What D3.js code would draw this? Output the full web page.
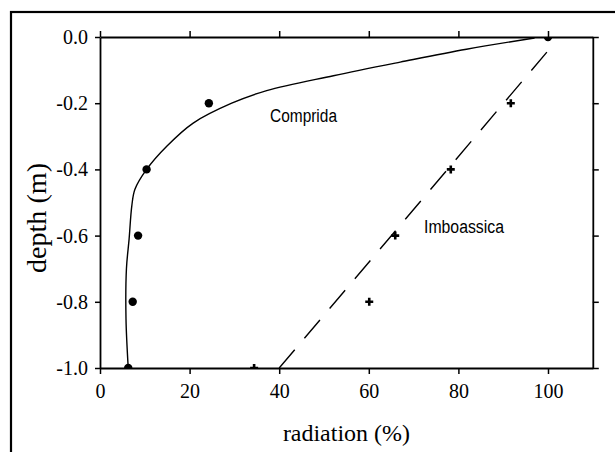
<!DOCTYPE html>
<html>
<head>
<meta charset="utf-8">
<script src="https://cdn.jsdelivr.net/npm/d3@7"></script>
<style>
  body { margin: 0; background: #fff; }
  svg { display: block; }
  .serif { font-family: "Liberation Serif", "Times New Roman", serif; }
  .lbl { font-family: "Liberation Sans", Arial, sans-serif; font-size: 18px; }
</style>
</head>
<body>
<svg width="615" height="452"></svg>
<script>
// Comprida: measured points and fitted curve
const compridaPts = [[100, 0], [24.3, -0.2], [10.4, -0.4], [8.5, -0.6], [7.3, -0.8], [6.3, -1.0]];
const compridaFit = [[6.3, -1.0], [5.8, -0.85], [5.9, -0.70], [6.5, -0.61], [7.1, -0.51], [7.8, -0.46],
  [10.4, -0.40], [14.9, -0.33], [20.8, -0.26], [29.4, -0.20], [37.2, -0.162], [52.1, -0.117],
  [67, -0.076], [81.8, -0.037], [97, -0.003]];
// Imboassica: measured points and linear fit
const imboPts = [[100, 0], [91.7, -0.2], [78.3, -0.4], [65.9, -0.6], [60.1, -0.8], [34.4, -1.0]];
const imboFit = [[40, -1.0], [101.3, -0.021]];

const xTicks = [0, 20, 40, 60, 80, 100];
const yTicks = [0, -0.2, -0.4, -0.6, -0.8, -1.0];

const svg = d3.select('svg');

// outer frame, runs off the right and bottom edge
svg.append('rect')
  .attr('x', 11).attr('y', 12).attr('width', 640).attr('height', 480)
  .attr('fill', 'none').attr('stroke', '#000').attr('stroke-width', 2.2);

const x = d3.scaleLinear().domain([0, 110]).range([100, 592.8]);
const y = d3.scaleLinear().domain([-1, 0]).range([368, 37]);

svg.append('clipPath').attr('id', 'plot')
  .append('rect')
  .attr('x', x(0)).attr('y', y(0))
  .attr('width', x(110) - x(0)).attr('height', y(-1) - y(0));

const styleAxis = g => {
  g.attr('font-family', null).attr('font-size', null).attr('class', 'serif');
  g.selectAll('path, line').attr('stroke', '#000').attr('stroke-width', 1.5);
  g.select('.domain').attr('stroke-width', 1.8);
  g.selectAll('text').attr('fill', '#000').style('font-size', '20px');
};

svg.append('g')
  .attr('transform', `translate(0,${y(-1)})`)
  .call(d3.axisBottom(x).tickValues(xTicks).tickSize(6).tickSizeOuter(0).tickPadding(10)
    .tickFormat(d3.format('d')))
  .call(styleAxis);

svg.append('g')
  .attr('transform', `translate(0,${y(0)})`)
  .call(d3.axisTop(x).tickValues(xTicks).tickSize(6).tickSizeOuter(0).tickFormat(''))
  .call(styleAxis);

svg.append('g')
  .attr('transform', `translate(${x(0)},0)`)
  .call(d3.axisLeft(y).tickValues(yTicks).tickSize(5).tickSizeOuter(0).tickPadding(7)
    .tickFormat(d => d3.format('.1f')(d).replace('−', '-')))
  .call(styleAxis);

svg.append('g')
  .attr('transform', `translate(${x(110)},0)`)
  .call(d3.axisRight(y).tickValues(yTicks).tickSize(6).tickSizeOuter(0).tickFormat(''))
  .call(styleAxis);

const plot = svg.append('g').attr('clip-path', 'url(#plot)');

plot.append('path')
  .datum(compridaFit)
  .attr('d', d3.line().x(d => x(d[0])).y(d => y(d[1])).curve(d3.curveCatmullRom))
  .attr('fill', 'none').attr('stroke', '#000').attr('stroke-width', 1.4);

plot.append('path')
  .datum(imboFit)
  .attr('d', d3.line().x(d => x(d[0])).y(d => y(d[1])))
  .attr('fill', 'none').attr('stroke', '#000').attr('stroke-width', 1.4)
  .attr('stroke-dasharray', '24 15');

plot.selectAll('circle')
  .data(compridaPts)
  .join('circle')
  .attr('cx', d => x(d[0])).attr('cy', d => y(d[1]))
  .attr('r', 4.2).attr('fill', '#000');

plot.selectAll('.plus')
  .data(imboPts)
  .join('path')
  .attr('class', 'plus')
  .attr('d', d => `M${x(d[0]) - 4},${y(d[1])}h8M${x(d[0])},${y(d[1]) - 4}v8`)
  .attr('stroke', '#000').attr('stroke-width', 2.6);

svg.append('text').attr('class', 'lbl')
  .attr('x', 270).attr('y', 122)
  .attr('textLength', 67).attr('lengthAdjust', 'spacingAndGlyphs')
  .text('Comprida');

svg.append('text').attr('class', 'lbl')
  .attr('x', 424).attr('y', 233)
  .attr('textLength', 80).attr('lengthAdjust', 'spacingAndGlyphs')
  .text('Imboassica');

svg.append('text').attr('class', 'serif')
  .attr('x', (x(0) + x(110)) / 2).attr('y', 441)
  .attr('text-anchor', 'middle')
  .style('font-size', '24px')
  .attr('textLength', 127).attr('lengthAdjust', 'spacingAndGlyphs')
  .text('radiation (%)');

svg.append('text').attr('class', 'serif')
  .attr('transform', 'translate(46,218) rotate(-90)')
  .attr('text-anchor', 'middle')
  .style('font-size', '28px')
  .attr('textLength', 110).attr('lengthAdjust', 'spacingAndGlyphs')
  .text('depth (m)');
</script>
</body>
</html>
